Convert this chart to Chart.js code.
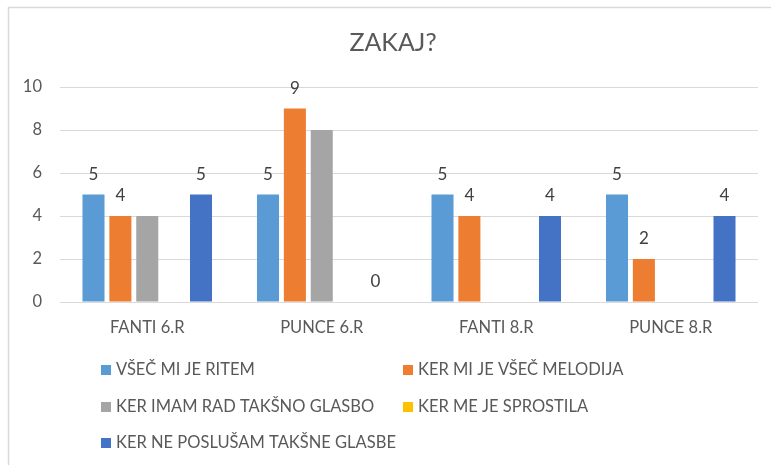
<!DOCTYPE html>
<html>
<head>
<meta charset="utf-8">
<script src="https://cdn.jsdelivr.net/npm/chart.js@4.4.0/dist/chart.umd.min.js"></script>
<style>
  body { margin: 0; background: #fff; }
  canvas { display: block; }
</style>
</head>
<body>
<canvas id="zakaj-chart" width="771" height="465"></canvas>
<script>
const categories = ["FANTI 6.R", "PUNCE 6.R", "FANTI 8.R", "PUNCE 8.R"];
const seriesNames = [
  "VŠEČ MI JE RITEM",
  "KER MI JE VŠEČ MELODIJA",
  "KER IMAM RAD TAKŠNO GLASBO",
  "KER ME JE SPROSTILA",
  "KER NE POSLUŠAM TAKŠNE GLASBE"
];
const ritem = [5, 5, 5, 5];
const melodija = [4, 9, 4, 2];
const radGlasbo = [4, 8, 0, 0];
const sprostila = [0, 0, 0, 0];
const nePoslusam = [5, 0, 4, 4];
const yTicks = [0, 2, 4, 6, 8, 10];
const chartTitle = "ZAKAJ?";

const colors = ["#5B9BD5", "#ED7D31", "#A5A5A5", "#FFC000", "#4472C4"];
const showLabels = [true, true, false, false, true];
const seriesData = [ritem, melodija, radGlasbo, sprostila, nePoslusam];
const textColor = "#595959";
const fontFamily = "Lato, 'Open Sans', sans-serif";

// frame and title, like the office chart box
const framePlugin = {
  id: "frame",
  beforeDraw(chart) {
    const ctx = chart.ctx;
    ctx.save();
    ctx.fillStyle = "#fff";
    ctx.fillRect(0, 0, chart.width, chart.height);
    ctx.strokeStyle = "#d9d9d9";
    ctx.lineWidth = 1.5;
    ctx.strokeRect(8.5, 7.5, 900, 600);
    ctx.font = "25px " + fontFamily;
    ctx.fillStyle = textColor;
    ctx.textAlign = "center";
    ctx.textBaseline = "middle";
    ctx.fillText(chartTitle, 393, 43);
    ctx.restore();
  }
};

// value labels above bars (only some series show them)
const labelPlugin = {
  id: "barLabels",
  afterDatasetsDraw(chart) {
    const ctx = chart.ctx;
    ctx.save();
    ctx.font = "17px " + fontFamily;
    ctx.fillStyle = "#404040";
    ctx.textAlign = "center";
    ctx.textBaseline = "middle";
    chart.data.datasets.forEach((ds, i) => {
      if (!showLabels[i]) return;
      chart.getDatasetMeta(i).data.forEach((bar, j) => {
        ctx.fillText(String(ds.data[j]), bar.x, bar.y - 20);
      });
    });
    ctx.restore();
  }
};

// legend in two columns below the axis
const legendPlugin = {
  id: "gridLegend",
  afterDraw(chart) {
    const ctx = chart.ctx;
    const colX = [101, 403];
    const rowY = [370, 407, 443];
    ctx.save();
    ctx.font = "16.5px " + fontFamily;
    ctx.textBaseline = "middle";
    ctx.textAlign = "left";
    chart.data.datasets.forEach((ds, i) => {
      const x = colX[i % 2];
      const y = rowY[Math.floor(i / 2)];
      ctx.fillStyle = ds.backgroundColor;
      ctx.fillRect(x, y - 5, 10, 10);
      ctx.fillStyle = textColor;
      ctx.fillText(ds.label, x + 15, y);
    });
    ctx.restore();
  }
};

const ctx = document.getElementById("zakaj-chart").getContext("2d");
const chart = new Chart(ctx, {
  type: "bar",
  data: {
    labels: categories,
    datasets: seriesNames.map((name, i) => ({
      label: name,
      data: seriesData[i],
      backgroundColor: colors[i],
      borderWidth: 0,
      categoryPercentage: 0.77,
      barPercentage: 0.82
    }))
  },
  options: {
    responsive: false,
    animation: false,
    layout: { padding: { left: 0, right: 13, top: 87, bottom: 130 } },
    plugins: {
      legend: { display: false },
      tooltip: { enabled: false },
      title: { display: false }
    },
    scales: {
      x: {
        grid: { display: false, drawTicks: false },
        border: { display: false },
        ticks: {
          color: textColor,
          font: { family: fontFamily, size: 16.5 },
          padding: 16
        },
        afterFit(scale) { scale.height = 33; }
      },
      y: {
        min: 0,
        max: 10,
        afterBuildTicks(scale) { scale.ticks = yTicks.map(v => ({ value: v })); },
        grid: { color: "#d9d9d9", lineWidth: 1, drawTicks: false },
        border: { display: false },
        ticks: {
          color: textColor,
          font: { family: fontFamily, size: 16.5 },
          padding: 18
        },
        afterFit(scale) { scale.width = 60; }
      }
    }
  },
  plugins: [framePlugin, labelPlugin, legendPlugin]
});
</script>
</body>
</html>
